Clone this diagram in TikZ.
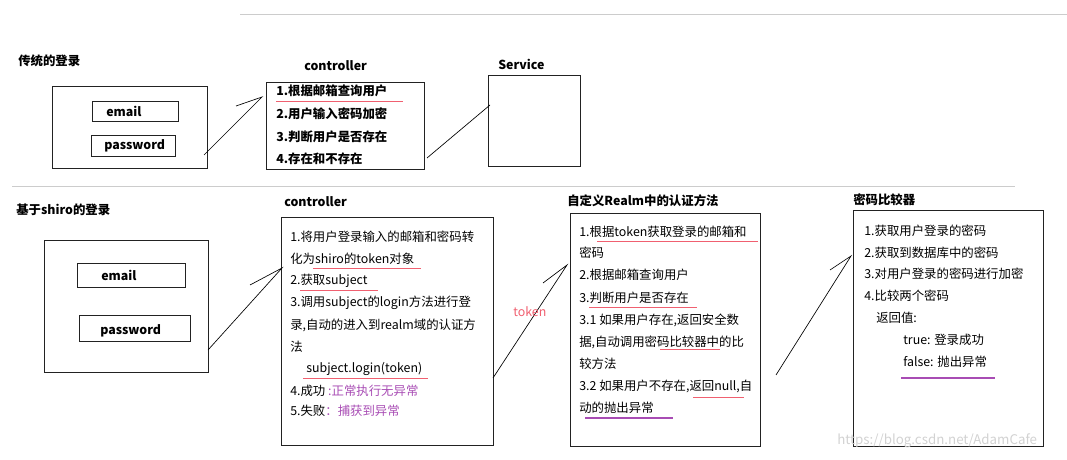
\documentclass[tikz,border=0pt]{standalone}
\usepackage{fontspec}
\setmainfont{Noto Sans CJK SC}
\definecolor{ul}{HTML}{F06070}
\definecolor{pur}{HTML}{A84CB4}
\definecolor{bx}{HTML}{222222}
\begin{document}
\begin{tikzpicture}[x=0.75pt,y=-0.75pt,
  box/.style={draw=bx,line width=0.7pt},
  t/.style={anchor=west,inner sep=0pt,font=\fontsize{9.3}{11}\selectfont},
  tb/.style={t,font=\fontsize{9.3}{11}\selectfont\bfseries},
  uline/.style={ul,line width=0.7pt},
  pline/.style={pur,line width=1.6pt},
  conn/.style={line width=0.5pt}]
\useasboundingbox (0,0) rectangle (1067,460);
\draw[gray!40] (240,14) -- (1067,14);
\draw[gray!40] (12,186) -- (1015,186);
% ---- top
\node[tb] (tl) at (18,61) {传统的登录};
\draw[box] (52,86) rectangle (207,168);
\draw[box] (92,101) rectangle (178,121);
\node[tb] (te) at (106,111) {email};
\draw[box] (91,135) rectangle (175,156);
\node[tb] (tp) at (104,146) {password};
\node[tb] (tc) at (304,66) {controller};
\draw[box] (266,82) rectangle (424,169);
\node[tb] (c1) at (276,91) {1.根据邮箱查询用户};
\node[tb] (c2) at (276,114) {2.用户输入密码加密};
\node[tb] (c3) at (276,137) {3.判断用户是否存在};
\node[tb] (c4) at (276,159) {4.存在和不存在};
\draw[uline] (276,101) -- (403,101);
\node[tb] (ts) at (498,64) {Service};
\draw[box] (488,75) rectangle (580,166);
\coordinate (a1s) at (204,155); \coordinate (a1e) at (262,97); \coordinate (a1h) at (236,106);
\draw[conn] (a1s) -- (a1e) -- (a1h);
\coordinate (a2s) at (427,158); \coordinate (a2e) at (490,105);
\draw[conn] (a2s) -- (a2e);
% ---- bottom
\node[tb] (bl) at (16,210) {基于shiro的登录};
\draw[box] (44,240) rectangle (208,372);
\draw[box] (77,263) rectangle (185,287);
\node[tb] (be) at (101,275) {email};
\draw[box] (79,315) rectangle (190,341);
\node[tb] (bp) at (100,331) {password};
\node[tb] (bc) at (284,202) {controller};
\draw[box] (281,217) rectangle (493,445);
\node[t] (d1) at (290,237) {1.将用户登录输入的邮箱和密码转};
\node[t] (d2) at (290,259) {化为shiro的token对象};
\node[t] (d3) at (290,281) {2.获取subject};
\node[t] (d4) at (290,303) {3.调用subject的login方法进行登};
\node[t] (d5) at (290,325) {录,自动的进入到realm域的认证方};
\node[t] (d6) at (290,347) {法};
\node[t] (d7) at (306,369) {subject.login(token)};
\node[t] (d8) at (290,391) {4.成功 \textcolor{pur}{:正常执行无异常}};
\node[t] (d9) at (290,411) {5.失败\textcolor{pur}{：捕获到异常}};
\draw[uline] (313,268) -- (421,268);
\draw[uline] (300,290) -- (378,290);
\draw[uline] (303,378) -- (428,378);
\node[tb] (rl) at (567,201) {自定义Realm中的认证方法};
\draw[box] (570,213) rectangle (760,446);
\node[t] (r1) at (579,232) {1.根据token获取登录的邮箱和};
\node[t] (r2) at (579,253) {密码};
\node[t] (r3) at (579,275) {2.根据邮箱查询用户};
\node[t] (r4) at (579,298) {3.判断用户是否存在};
\node[t] (r5) at (579,320) {3.1 如果用户存在,返回安全数};
\node[t] (r6) at (579,342) {据,自动调用密码比较器中的比};
\node[t] (r7) at (579,364) {较方法};
\node[t] (r8) at (579,386) {3.2 如果用户不存在,返回null,自};
\node[t] (r9) at (579,408) {动的抛出异常};
\draw[uline] (597,241) -- (758,241);
\draw[uline] (589,307) -- (697,307);
\draw[uline] (660,349) -- (720,349);
\draw[uline] (693,397) -- (744,397);
\draw[pline] (585,418) -- (673,418);
\node[tb] (ml) at (853,200) {密码比较器};
\draw[box] (853,210) rectangle (1043,446);
\node[t] (m1) at (864,231) {1.获取用户登录的密码};
\node[t] (m2) at (864,253) {2.获取到数据库中的密码};
\node[t] (m3) at (864,274) {3.对用户登录的密码进行加密};
\node[t] (m4) at (864,296) {4.比较两个密码};
\node[t] (m5) at (876,318) {返回值:};
\node[t] (m6) at (903,340) {true: 登录成功};
\node[t] (m7) at (903,362) {false: 抛出异常};
\draw[pline] (901,378) -- (995,378);
\coordinate (b1s) at (208,350); \coordinate (b1e) at (282,268); \coordinate (b1h) at (250,285);
\draw[conn] (b1s) -- (b1e) -- (b1h);
\coordinate (b2s) at (493,378); \coordinate (b2e) at (567,265); \coordinate (b2h) at (543,283);
\draw[conn] (b2s) -- (b2e) -- (b2h);
\node[t,text=ul] (tok) at (513,312) {token};
\coordinate (b3s) at (776,375); \coordinate (b3e) at (851,256); \coordinate (b3h) at (830,270);
\draw[conn] (b3s) -- (b3e) -- (b3h);
\node[t,text=gray!35,font=\fontsize{10}{12}\selectfont] (wm) at (837,441) {https://blog.csdn.net/AdamCafe};
\end{tikzpicture}
\end{document}
